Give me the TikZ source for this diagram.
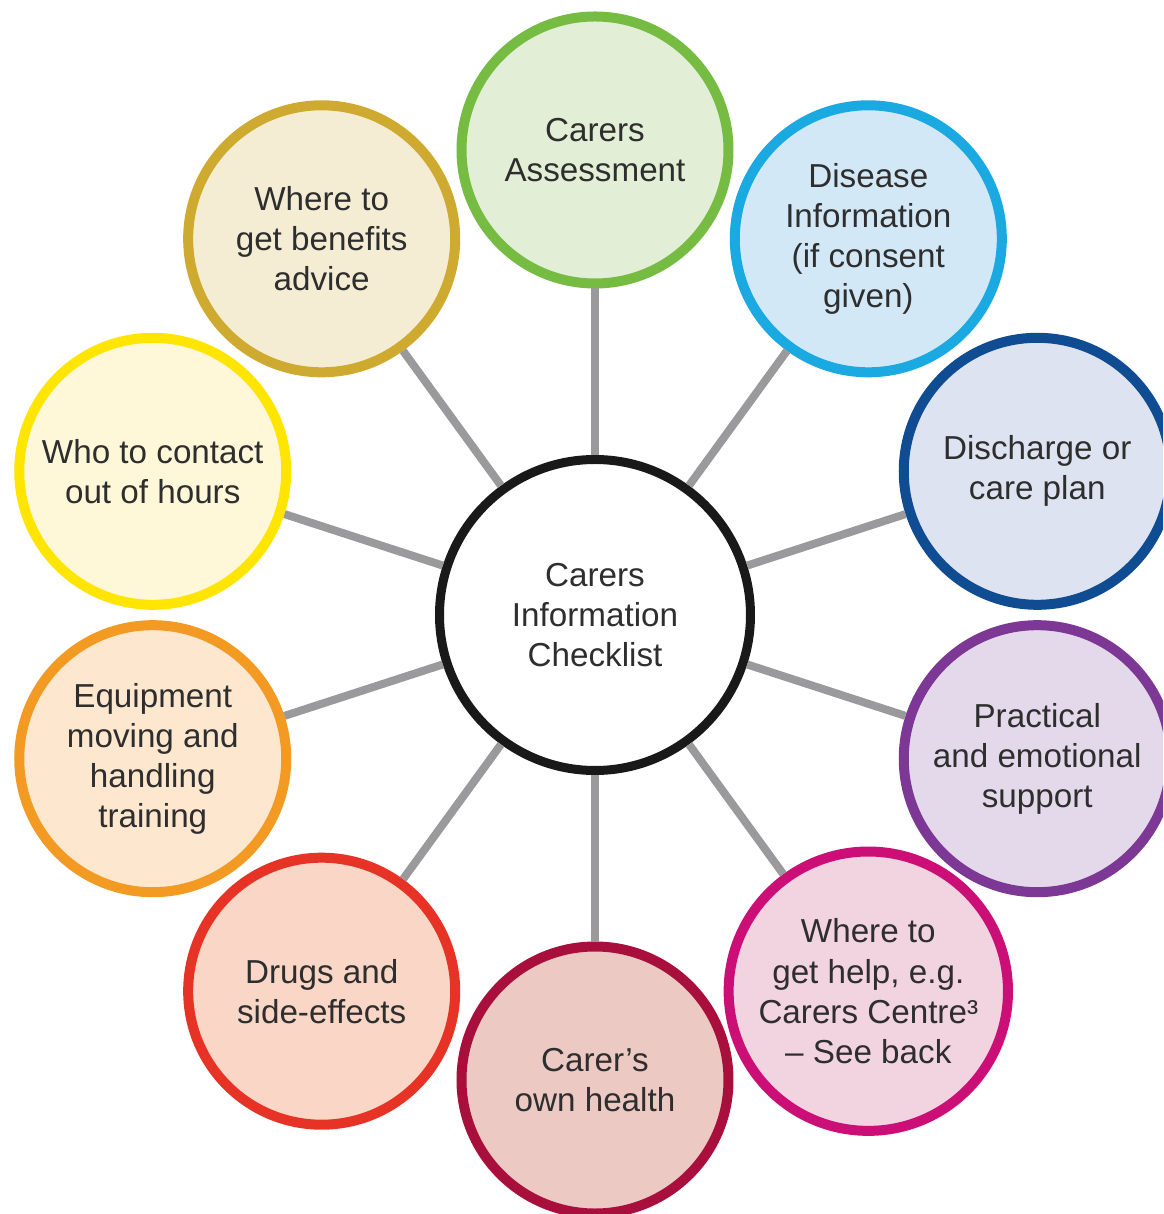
\documentclass[tikz,border=0pt]{standalone}
\usepackage{fontspec}
\setmainfont{Liberation Sans}

\definecolor{ink}{HTML}{2E2E2E}
\definecolor{spokegray}{HTML}{9A9A9C}
\definecolor{assessline}{HTML}{76BC43}  \definecolor{assessfill}{HTML}{E2EFD6}
\definecolor{diseaseline}{HTML}{1BA9E1} \definecolor{diseasefill}{HTML}{D3E8F7}
\definecolor{planline}{HTML}{0F4C92}    \definecolor{planfill}{HTML}{DDE3F0}
\definecolor{supportline}{HTML}{7D3794} \definecolor{supportfill}{HTML}{E3D9EA}
\definecolor{helpline}{HTML}{CC0F76}    \definecolor{helpfill}{HTML}{F2D3E0}
\definecolor{healthline}{HTML}{A90F3C}  \definecolor{healthfill}{HTML}{ECC9C2}
\definecolor{drugsline}{HTML}{E63325}   \definecolor{drugsfill}{HTML}{F9D6C6}
\definecolor{equipline}{HTML}{F29A22}   \definecolor{equipfill}{HTML}{FDE7CF}
\definecolor{hoursline}{HTML}{FFE500}   \definecolor{hoursfill}{HTML}{FEF8D9}
\definecolor{benefitline}{HTML}{CFAA30} \definecolor{benefitfill}{HTML}{F5EDD3}

\begin{document}
\begin{tikzpicture}[topic/.style={draw,circle,line width=0.2cm,minimum size=5.34cm,align=center,text=ink,font=\fontsize{18.9}{22.8}\selectfont},
  hub/.style={topic,draw=black!90,fill=white,line width=0.18cm,minimum size=6.22cm},
  spoke/.style={draw,spokegray,line width=0.16cm}]
  \clip (-11.9,-11.98) rectangle (11.36,12.3);

  \node[hub] (hub) at (0,0) {Carers\\Information\\Checklist};

  \node[topic,draw=assessline,fill=assessfill] (assess) at (90:9.3) {Carers\\Assessment};
  \node[topic,draw=diseaseline,fill=diseasefill] (disease) at (54:9.3) {Disease\\Information\\(if consent\\given)};
  \node[topic,draw=planline,fill=planfill] (plan) at (18:9.3) {Discharge or\\care plan};
  \node[topic,draw=supportline,fill=supportfill] (support) at (-18:9.3) {Practical\\and emotional\\support};
  \node[topic,draw=helpline,fill=helpfill] (help) at (-54:9.3) {Where to\\get help, e.g.\\Carers Centre³\\– See back};
  \node[topic,draw=healthline,fill=healthfill] (health) at (-90:9.3) {Carer’s\\own health};
  \node[topic,draw=drugsline,fill=drugsfill] (drugs) at (-126:9.3) {Drugs and\\side-effects};
  \node[topic,draw=equipline,fill=equipfill] (equip) at (-162:9.3) {Equipment\\moving and\\handling\\training};
  \node[topic,draw=hoursline,fill=hoursfill] (hours) at (162:9.3) {Who to contact\\out of hours};
  \node[topic,draw=benefitline,fill=benefitfill] (benefit) at (126:9.3) {Where to\\get benefits\\advice};

  \draw[spoke] (hub) -- (assess);
  \draw[spoke] (hub) -- (disease);
  \draw[spoke] (hub) -- (plan);
  \draw[spoke] (hub) -- (support);
  \draw[spoke] (hub) -- (help);
  \draw[spoke] (hub) -- (health);
  \draw[spoke] (hub) -- (drugs);
  \draw[spoke] (hub) -- (equip);
  \draw[spoke] (hub) -- (hours);
  \draw[spoke] (hub) -- (benefit);
\end{tikzpicture}
\end{document}
